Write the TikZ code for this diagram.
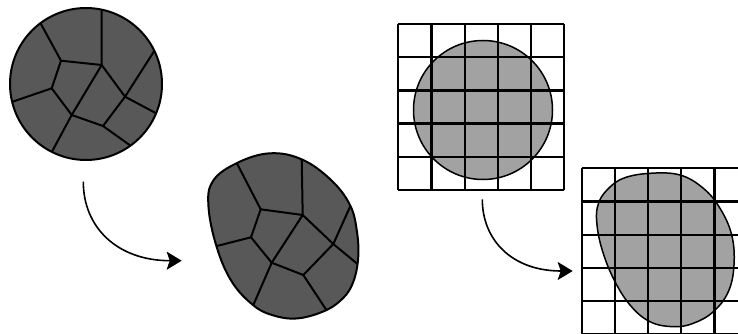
\documentclass[tikz,border=0pt]{standalone}
\usetikzlibrary{arrows.meta}
\definecolor{darkfill}{RGB}{88,88,88}
\definecolor{lightfill}{RGB}{162,162,162}
\tikzset{
  cell/.style={line width=2pt, line join=round},
  rim/.style={line width=2pt},
  gridline/.style={line width=2.3pt},
  softrim/.style={line width=1.5pt},
  bend arrow/.style={line width=1.6pt, -{Stealth[length=15pt,width=18pt,inset=3pt]}}
}
\begin{document}
\begin{tikzpicture}[x=1pt,y=-1pt]
\useasboundingbox (0,0) rectangle (738,334);
\clip (0,0) rectangle (738,334);

% ---------- circle with cells ----------
\coordinate (c1) at (86,84);
\fill[darkfill] (c1) circle[radius=76];
\begin{scope}
  \clip (c1) circle[radius=76];
  \coordinate (C) at (61,60.7);
  \coordinate (D) at (101.7,65);
  \coordinate (F) at (125,96.7);
  \coordinate (H) at (103,126);
  \coordinate (J) at (71.7,115);
  \coordinate (K) at (51.7,88.3);
  \draw[cell] (35,13) -- (C) -- (D) -- (101.7,2);
  \draw[cell] (D) -- (F) -- (160,42);
  \draw[cell] (F) -- (165,118);
  \draw[cell] (F) -- (H) -- (138,151);
  \draw[cell] (H) -- (J) -- (48,159);
  \draw[cell] (D) -- (J);
  \draw[cell] (C) -- (K) -- (J);
  \draw[cell] (K) -- (3,105);
\end{scope}
\draw[rim] (c1) circle[radius=76];

% ---------- deformed blob with cells ----------
\def\blobA{plot[smooth cycle, tension=0.65] coordinates {(213,181) (237,163) (270,153.3) (302,159.5) (331,180) (350,205) (357,232) (358,260) (352,285) (340,301) (322,312) (296,318.5) (272,315) (253,305) (232,282) (217,248) (208.5,207)}}
\fill[darkfill] \blobA;
\begin{scope}
  \clip \blobA;
  \coordinate (C2) at (260.7,209.3);
  \coordinate (D2) at (302.7,215);
  \coordinate (F2) at (333.3,244);
  \coordinate (H2) at (303.3,275);
  \coordinate (J2) at (271.7,262.7);
  \coordinate (K2) at (251,237.3);
  \draw[cell] (231,152) -- (C2) -- (D2) -- (301.5,148);
  \draw[cell] (D2) -- (F2) -- (354,198);
  \draw[cell] (F2) -- (366,271);
  \draw[cell] (F2) -- (H2) -- (331,317);
  \draw[cell] (H2) -- (J2) -- (249,315);
  \draw[cell] (D2) -- (J2);
  \draw[cell] (C2) -- (K2) -- (J2);
  \draw[cell] (K2) -- (205,249);
\end{scope}
\draw[rim] \blobA;

% ---------- grid with circle ----------
\fill[lightfill] (483,110) circle[radius=69.5];
\draw[softrim] (483,110) circle[radius=69.5];
\foreach \i in {0,...,5} {
  \draw[gridline] ({398.3+33.2*\i},24) -- ({398.3+33.2*\i},190);
  \draw[gridline] (398.3,{24+33.2*\i}) -- (564.3,{24+33.2*\i});
}

% ---------- grid with deformed blob ----------
\def\blobB{plot[smooth cycle, tension=0.65] coordinates {(650,173.3) (680,175) (703.3,188.3) (720,208.3) (731.7,235) (734,265) (728.3,291.7) (713.3,311.7) (693.3,323.3) (673.3,326.7) (650,321.7) (630,305) (613.3,278.3) (601.7,248.3) (596.7,221.7) (598.3,204) (607,190) (623.3,178.3)}}
\fill[lightfill] \blobB;
\draw[softrim] \blobB;
\foreach \i in {0,...,5} {
  \draw[gridline] ({581.7+33.2*\i},168.3) -- ({581.7+33.2*\i},334.3);
  \draw[gridline] (581.7,{168.3+33.2*\i}) -- (747.7,{168.3+33.2*\i});
}

% ---------- arrows ----------
\coordinate (a1s) at (83.3,181.7);
\coordinate (a1e) at (181.7,260.7);
\coordinate (a2s) at (482.3,199.3);
\coordinate (a2e) at (572.7,271);
\draw[bend arrow] (a1s) .. controls (83.3,228) and (118,260.7) .. (a1e);
\draw[bend arrow] (a2s) .. controls (482.3,240) and (512,271) .. (a2e);
\end{tikzpicture}
\end{document}
